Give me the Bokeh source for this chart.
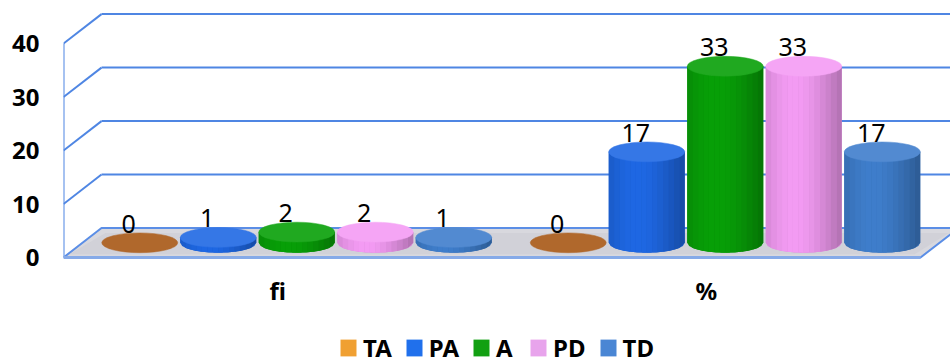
import numpy as np
from bokeh.plotting import figure
from bokeh.models import Range1d, FixedTicker, Legend, LegendItem
from bokeh.core.properties import value
from bokeh.embed import file_html
from bokeh.resources import INLINE

# ---- data ----
categories = ["fi", "%"]
series = ["TA", "PA", "A", "PD", "TD"]
fi_values = [0, 1, 2, 2, 1]
pct_values = [0, 17, 33, 33, 17]
y_ticks = [0, 10, 20, 30, 40]

# ---- style ----
bar_colors = ["#B0682C", "#1F68E4", "#08A008", "#F49CF4", "#3F7ECC"]
legend_colors = ["#F0A032", "#2070EC", "#12A012", "#E8A4EC", "#4A86D4"]
grid_color = "#4F86E3"
FONT = "Noto Sans"

W_CAT = 857 / 2.0     # width of one category on the front plane (x units = px)
SPACING = 78.5        # distance between cylinders
BAR_W = 76.0          # cylinder width
DX = 38.0             # depth offset in x (px)
DV = 5.5              # depth offset in value units
EH = 3.7              # ellipse height in value units

p = figure(width=950, height=364, x_range=Range1d(0, 887), y_range=Range1d(-20.0, 48.04),
           output_backend="svg", toolbar_location=None, x_axis_location=None,
           min_border_left=63, min_border_right=0, min_border_top=0, min_border_bottom=0)
p.outline_line_color = None
p.background_fill_color = "white"
p.xgrid.visible = False
p.ygrid.visible = False

ax = p.yaxis[0]
ax.ticker = FixedTicker(ticks=y_ticks)
ax.axis_line_color = None
ax.major_tick_line_color = None
ax.minor_tick_line_color = None
ax.major_tick_out = 0
ax.major_tick_in = 0
ax.major_label_standoff = 24
ax.major_label_text_font = FONT
ax.major_label_text_font_size = "24px"
ax.major_label_text_font_style = "bold"
ax.major_label_text_color = "#000000"

# ---- walls / grid ----
top_tick = max(y_ticks)
n = len(y_ticks) - 1
p.segment(x0=[DX] * n, y0=[t + DV for t in y_ticks[1:]],
          x1=[900] * n, y1=[t + DV for t in y_ticks[1:]],
          line_color=grid_color, line_width=2)
p.segment(x0=[0] * n, y0=y_ticks[1:], x1=[DX] * n, y1=[t + DV for t in y_ticks[1:]],
          line_color=grid_color, line_width=2)
p.segment(x0=[0], y0=[0], x1=[0], y1=[top_tick], line_color=grid_color, line_width=2)

# ---- floor ----
floor_right = W_CAT * len(categories)
p.patch(x=[0, floor_right, floor_right + DX, DX], y=[0, 0, DV, DV],
        fill_color="#D8D8DE", line_color="#5B8EE6", line_width=2)
p.patch(x=[6, floor_right - 6, floor_right + DX - 10, DX + 4], y=[0.6, 0.6, DV - 0.9, DV - 0.9],
        fill_color="#CACAD2", line_color=None, fill_alpha=0.5)
p.segment(x0=[0], y0=[0], x1=[floor_right], y1=[0], line_color="#86AAE8", line_width=3)


def shade(hexcol, f):
    h = hexcol.lstrip("#")
    r, g, b = (int(h[i:i + 2], 16) for i in (0, 2, 4))
    if f <= 1:
        r, g, b = r * f, g * f, b * f
    else:
        k = f - 1
        r, g, b = r + (255 - r) * k, g + (255 - g) * k, b + (255 - b) * k
    return "#%02x%02x%02x" % (int(min(255, r)), int(min(255, g)), int(min(255, b)))


def bottom_curve(u, yb):
    return yb - (EH / 2) * np.sqrt(max(0.0, 1 - (u / (BAR_W / 2)) ** 2))


# ---- cylinders ----
N = 14
body_xs, body_ys, body_cols = [], [], []
strip_xs, strip_ys, strip_cols = [], [], []
top_x, top_y, top_cols = [], [], []
lab_x, lab_y, lab_t = [], [], []
all_values = [fi_values, pct_values]
for i, vals in enumerate(all_values):
    front_c = (i + 0.5) * W_CAT
    for j, v in enumerate(vals):
        xf = front_c + (j - (len(series) - 1) / 2) * SPACING
        xc = xf + DX / 2
        yb = DV / 2
        yt = DV / 2 + v
        col = bar_colors[j]
        if v > 0:
            us = np.linspace(-BAR_W / 2, BAR_W / 2, 41)
            body_xs.append([xc - BAR_W / 2] + [xc + u for u in us] + [xc + BAR_W / 2])
            body_ys.append([yt] + [bottom_curve(u, yb) for u in us] + [yt])
            body_cols.append(shade(col, 0.9))
            edges = np.linspace(-BAR_W / 2, BAR_W / 2, N + 1)
            for k in range(N):
                a, b = edges[k], edges[k + 1]
                t = (a + b) / BAR_W
                f = 0.80 + 0.20 * np.cos((t + 0.25) * np.pi / 2)
                strip_xs.append([xc + a, xc + b, xc + b, xc + a])
                strip_ys.append([yt, yt, bottom_curve(b, yb), bottom_curve(a, yb)])
                strip_cols.append(shade(col, f))
        top_x.append(xc)
        top_y.append(yt)
        top_cols.append(shade(col, 1.1) if v > 0 else col)
        lab_x.append(xf + 8)
        lab_y.append(yt + 3.6)
        lab_t.append(str(v))

p.patches(xs=body_xs, ys=body_ys, fill_color=body_cols, line_color=None)
p.patches(xs=strip_xs, ys=strip_ys, fill_color=strip_cols, line_color=None)
p.ellipse(x=top_x, y=top_y, width=BAR_W, height=EH, fill_color=top_cols,
          line_color=top_cols, line_width=0.5)

# value labels
p.text(x=lab_x, y=lab_y, text=lab_t, text_align="center", text_baseline="middle",
       text_font=value(FONT), text_font_size="25px", text_color="#000000")

# category labels
p.text(x=[(i + 0.5) * W_CAT for i in range(len(categories))], y=[-6.2] * len(categories),
       text=categories, text_align="center", text_baseline="middle",
       text_font=value(FONT), text_font_size="24px", text_font_style="bold",
       text_color="#000000")

# ---- legend ----
items = []
for name, c in zip(series, legend_colors):
    r = p.quad(left=[-5000], right=[-4990], top=[-5000], bottom=[-5010],
               fill_color=c, line_color=None)
    items.append(LegendItem(label=name, renderers=[r]))
legend = Legend(items=items, orientation="horizontal", location=(275, 0),
                glyph_width=20, glyph_height=21, label_standoff=5, spacing=12,
                padding=0, margin=0, border_line_color=None, background_fill_alpha=0,
                label_text_font=FONT, label_text_font_size="24px",
                label_text_font_style="bold", label_text_color="#000000")
p.add_layout(legend, "center")

open("out.html", "w").write(file_html(p, INLINE))
